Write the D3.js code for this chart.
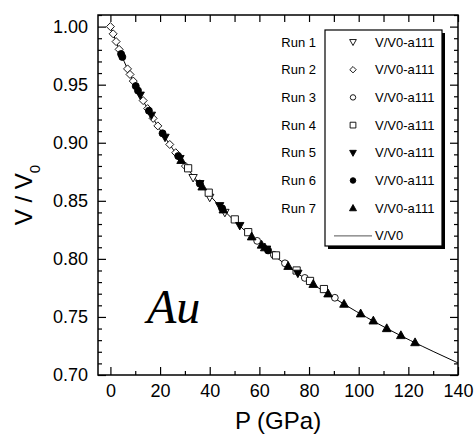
<!DOCTYPE html>
<html>
<head>
<meta charset="utf-8">
<script src="https://cdn.jsdelivr.net/npm/d3@7"></script>
<style>
  body { margin: 0; background: #fff; }
  text { fill: #000; }
</style>
</head>
<body>
<div id="chart"></div>
<script>
// fitted curve
const curveP = [0, 3.57, 7.62, 12.23, 17.47, 23.41, 30.16, 37.82, 46.52, 56.39, 67.61, 80.36, 94.88, 111.42, 130.29, 140];
const curveV = [1.000, 0.980, 0.960, 0.940, 0.920, 0.900, 0.880, 0.860, 0.840, 0.820, 0.800, 0.780, 0.760, 0.740, 0.720, 0.7104];

// runs
const run1P = [33.3, 40.0, 46.1];
const run1V = [0.870, 0.853, 0.840];
const run2P = [0, 1.1, 2.3, 3.5, 6.9, 7.9, 9.2, 13.2, 15.0, 17.2, 19.1, 23.9, 26.3, 30.2];
const run2V = [1.000, 0.9938, 0.9871, 0.9804, 0.9636, 0.9588, 0.9531, 0.9363, 0.9294, 0.9210, 0.9145, 0.8985, 0.8914, 0.8799];
const run3P = [59.1, 65.8, 70.3, 78.3, 90.4];
const run3V = [0.8155, 0.8035, 0.7962, 0.7836, 0.7665];
const run4P = [31.3, 39.6, 50.1, 55.5, 66.7, 75.0, 80.4, 86.0];
const run4V = [0.878, 0.857, 0.834, 0.823, 0.803, 0.790, 0.781, 0.774];
const run5P = [12.0, 16.5, 22.0, 28.0, 36.0, 44.0, 52.1, 62.9, 75.5];
const run5V = [0.941, 0.9237, 0.9047, 0.8864, 0.8648, 0.8458, 0.8287, 0.8084, 0.7876];
const run6P = [4.3, 4.8, 10.2, 11.1, 15.5, 21.0, 27.3, 36.0, 45.0, 63.5];
const run6V = [0.9764, 0.9739, 0.9488, 0.9449, 0.9275, 0.9081, 0.8885, 0.8648, 0.8435, 0.8073];
const run7P = [28.5, 37.0, 45.5, 56.9, 60.9, 62.2, 71.6, 81.7, 87.7, 94.1, 100.8, 105.9, 111.3, 117.0, 122.7];
const run7V = [0.8849, 0.8621, 0.8423, 0.8191, 0.8120, 0.8097, 0.7937, 0.7782, 0.7700, 0.7611, 0.7528, 0.7467, 0.7401, 0.7341, 0.7280];

const runLabels = ["Run 1", "Run 2", "Run 3", "Run 4", "Run 5", "Run 6", "Run 7"];
const seriesName = "V/V0-a111";
const curveName = "V/V0";
const xTicks = [0, 20, 40, 60, 80, 100, 120, 140];
const yTicks = [0.70, 0.75, 0.80, 0.85, 0.90, 0.95, 1.00];

const sans = "Liberation Sans, Arial, sans-serif";

// custom marker shapes, size = half width
const triUp = { draw(c, r) { c.moveTo(0, -r); c.lineTo(r * 0.95, r * 0.7); c.lineTo(-r * 0.95, r * 0.7); c.closePath(); } };
const triDown = { draw(c, r) { c.moveTo(0, r); c.lineTo(r * 0.95, -r * 0.7); c.lineTo(-r * 0.95, -r * 0.7); c.closePath(); } };
const diamond = { draw(c, r) { c.moveTo(0, -r); c.lineTo(r, 0); c.lineTo(0, r); c.lineTo(-r, 0); c.closePath(); } };
const square = { draw(c, r) { c.rect(-r, -r, 2 * r, 2 * r); } };
const circle = { draw(c, r) { c.moveTo(r, 0); c.arc(0, 0, r, 0, 2 * Math.PI); } };

const runs = [
    { p: run1P, v: run1V, shape: triDown, r: 4.4, fill: "#fff" },
    { p: run2P, v: run2V, shape: diamond, r: 4.0, fill: "#fff" },
    { p: run3P, v: run3V, shape: circle, r: 3.4, fill: "#fff" },
    { p: run4P, v: run4V, shape: square, r: 3.6, fill: "#fff" },
    { p: run5P, v: run5V, shape: triDown, r: 4.4, fill: "#000" },
    { p: run6P, v: run6V, shape: circle, r: 3.5, fill: "#000" },
    { p: run7P, v: run7V, shape: triUp, r: 4.6, fill: "#000" }
];

const w = 474, h = 435;
const mLeft = 98, mRight = 458, mTop = 15, mBottom = 375;

const svg = d3.select("#chart").append("svg")
    .attr("width", w)
    .attr("height", h)
    .style("font-family", sans);

const x = d3.scaleLinear().domain([-5, 140]).range([mLeft, mRight]);
const y = d3.scaleLinear().domain([0.70, 1.01]).range([mBottom, mTop]);

// axes, ticks inside
function styleAxis(g) {
    g.select(".domain").remove();
    g.selectAll("line").attr("stroke", "#000").attr("stroke-width", 1.2);
    g.selectAll("text").attr("font-size", 18).style("font-family", sans);
}

svg.append("g").attr("transform", `translate(0,${mBottom})`)
    .call(d3.axisBottom(x).tickValues(d3.range(10, 140, 20)).tickSize(-4).tickFormat(""))
    .call(styleAxis);
svg.append("g").attr("transform", `translate(0,${mBottom})`)
    .call(d3.axisBottom(x).tickValues(xTicks).tickSize(-8).tickPadding(9).tickFormat(d3.format("d")))
    .call(styleAxis);
svg.append("g").attr("transform", `translate(0,${mTop})`)
    .call(d3.axisTop(x).tickValues(d3.range(0, 141, 10)).tickSize(-7).tickFormat(""))
    .call(styleAxis);

const yMinor = d3.range(0.71, 1.01, 0.01).filter(d => Math.round(d * 100) % 5 !== 0);
[[d3.axisLeft, mLeft], [d3.axisRight, mRight]].forEach(([ax, pos], i) => {
    svg.append("g").attr("transform", `translate(${pos},0)`)
        .call(ax(y).tickValues(yMinor).tickSize(-4).tickFormat(""))
        .call(styleAxis);
    svg.append("g").attr("transform", `translate(${pos},0)`)
        .call(ax(y).tickValues(yTicks).tickSize(-8).tickPadding(10)
            .tickFormat(i === 0 ? d3.format(".2f") : ""))
        .call(styleAxis);
});

svg.append("rect")
    .attr("x", mLeft).attr("y", mTop)
    .attr("width", mRight - mLeft).attr("height", mBottom - mTop)
    .attr("fill", "none").attr("stroke", "#000").attr("stroke-width", 1.5);

// axis titles
svg.append("text")
    .attr("x", 278).attr("y", 429)
    .attr("text-anchor", "middle")
    .attr("font-size", 24)
    .text("P (GPa)");

const yl = svg.append("text")
    .attr("transform", "translate(32,195) rotate(-90)")
    .attr("text-anchor", "middle")
    .attr("font-size", 24);
yl.append("tspan").text("V / V");
yl.append("tspan").attr("font-size", 15).attr("dy", 8).text("0");

// curve
svg.append("clipPath").attr("id", "plot")
    .append("rect").attr("x", mLeft).attr("y", mTop).attr("width", mRight - mLeft).attr("height", mBottom - mTop);

const line = d3.line()
    .x((d, i) => x(curveP[i]))
    .y(d => y(d))
    .curve(d3.curveMonotoneX);

svg.append("path")
    .attr("clip-path", "url(#plot)")
    .attr("d", line(curveV))
    .attr("fill", "none")
    .attr("stroke", "#000")
    .attr("stroke-width", 1);

// markers
runs.forEach(run => {
    const sym = d3.symbol().type(run.shape).size(run.r);
    svg.append("g").selectAll("path")
        .data(run.p)
        .enter()
        .append("path")
        .attr("transform", (d, i) => `translate(${x(d)},${y(run.v[i])})`)
        .attr("d", sym)
        .attr("fill", run.fill)
        .attr("stroke", "#000")
        .attr("stroke-width", 0.9);
});

// Au label
svg.append("text")
    .attr("x", 147).attr("y", 323)
    .style("font-family", "Liberation Serif, Times New Roman, serif")
    .style("font-style", "italic")
    .attr("font-size", 48)
    .text("Au");

// legend
const lg = svg.append("g");
const lx = 325, ly = 30, lw = 117, lh = 216;
lg.append("rect").attr("x", lx + 3).attr("y", ly + 3).attr("width", lw).attr("height", lh).attr("fill", "#000");
lg.append("rect").attr("x", lx).attr("y", ly).attr("width", lw).attr("height", lh)
    .attr("fill", "#fff").attr("stroke", "#000").attr("stroke-width", 1.2);

const rowY = i => 42 + i * 27.7;

runLabels.forEach((lab, i) => {
    lg.append("text")
        .attr("x", 316).attr("y", rowY(i))
        .attr("dy", "0.35em")
        .attr("text-anchor", "end")
        .attr("font-size", 13)
        .text(lab);
    lg.append("path")
        .attr("transform", `translate(353,${rowY(i)})`)
        .attr("d", d3.symbol().type(runs[i].shape).size(runs[i].r * 0.8)())
        .attr("fill", runs[i].fill)
        .attr("stroke", "#000")
        .attr("stroke-width", 0.9);
    lg.append("text")
        .attr("x", 375).attr("y", rowY(i))
        .attr("dy", "0.35em")
        .attr("font-size", 13)
        .text(seriesName);
});

lg.append("line")
    .attr("x1", 334).attr("x2", 372)
    .attr("y1", rowY(7)).attr("y2", rowY(7))
    .attr("stroke", "#555").attr("stroke-width", 1);
lg.append("text")
    .attr("x", 375).attr("y", rowY(7))
    .attr("dy", "0.35em")
    .attr("font-size", 13)
    .text(curveName);
</script>
</body>
</html>
